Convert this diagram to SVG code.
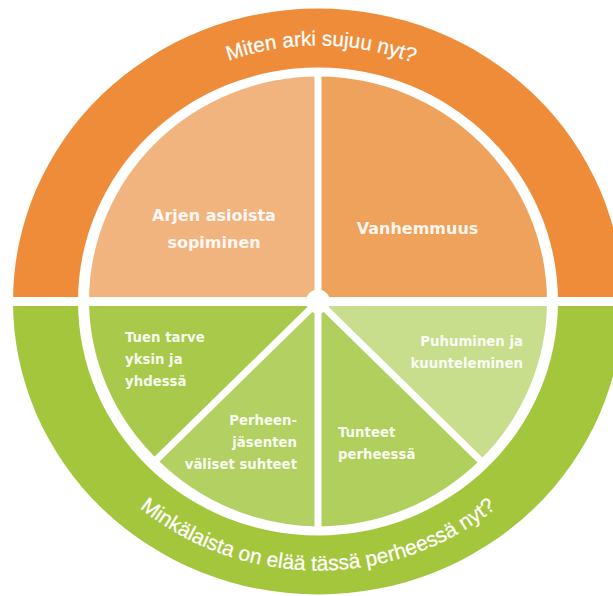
<svg xmlns="http://www.w3.org/2000/svg" width="613" height="596" viewBox="0 0 613 596">
  <defs>
    <style>
      .ring-text { font-family: "Liberation Sans", Arial, sans-serif; fill: #ffffff; stroke: #ffffff; stroke-width: 0.25; }
      .label { font-family: "DejaVu Sans", "Liberation Sans", sans-serif; font-weight: bold; fill: #ffffff; fill-opacity: 0.93; }
      .label-lg { font-size: 16px; }
      .label-sm { font-size: 13.3px; }
      .divider { stroke: #ffffff; stroke-width: 7; fill: none; }
    </style>
    <!-- baseline for the upper ring caption (clockwise over the top) -->
    <path id="arc-top" d="M 55 301.5 A 263 256 0 0 1 581 301.5"/>
    <!-- baseline for the lower ring caption (left to right under the bottom) -->
    <path id="arc-bottom" d="M 40 301.5 A 278 269 0 0 0 596 301.5"/>
  </defs>

  <rect width="613" height="596" fill="#ffffff"/>

  <!-- outer ring: everyday life (top) and family atmosphere (bottom) -->
  <g id="ring-top">
    <path d="M 13 301.5 A 305 293 0 0 1 623 301.5 Z" fill="#EE8C3A"/>
    <text class="ring-text" font-size="20.6"><textPath href="#arc-top" startOffset="50.4%" text-anchor="middle">Miten arki sujuu nyt?</textPath></text>
  </g>
  <g id="ring-bottom">
    <path d="M 13 301.5 A 305 293 0 0 0 623 301.5 Z" fill="#A4C63C"/>
  </g>

  <!-- white gap between the ring and the inner wheel -->
  <ellipse cx="318" cy="301.5" rx="240" ry="234" fill="#ffffff"/>

  <g id="ring-bottom-caption">
    <text class="ring-text" font-size="21"><textPath href="#arc-bottom" startOffset="50%" text-anchor="middle">Minkälaista on elää tässä perheessä nyt?</textPath></text>
  </g>

  <!-- inner wheel sectors -->
  <g id="arjen-asioista-sopiminen">
    <path d="M 318 301.5 L 89 301.5 A 229 225 0 0 1 318 76.5 Z" fill="#F2B47F"/>
    <text class="label label-lg" x="214" y="220.5" text-anchor="middle">Arjen asioista</text>
    <text class="label label-lg" x="214" y="247.5" text-anchor="middle">sopiminen</text>
  </g>
  <g id="vanhemmuus">
    <path d="M 318 301.5 L 318 76.5 A 229 225 0 0 1 547 301.5 Z" fill="#EFA25B"/>
    <text class="label label-lg" x="417.5" y="234" text-anchor="middle">Vanhemmuus</text>
  </g>
  <g id="tuen-tarve">
    <path d="M 318 301.5 L 89 301.5 A 229 225 0 0 0 157 459 Z" fill="#A8C94A"/>
    <text class="label label-sm" x="125" y="341.5">Tuen tarve</text>
    <text class="label label-sm" x="125" y="364">yksin ja</text>
    <text class="label label-sm" x="125" y="386">yhdessä</text>
  </g>
  <g id="perheenjasenten-suhteet">
    <path d="M 318 301.5 L 157 459 A 229 225 0 0 0 318 526.5 Z" fill="#B3D062"/>
    <text class="label label-sm" x="297" y="425" text-anchor="end">Perheen-</text>
    <text class="label label-sm" x="297" y="447" text-anchor="end">jäsenten</text>
    <text class="label label-sm" x="297" y="468.5" text-anchor="end">väliset suhteet</text>
  </g>
  <g id="tunteet-perheessa">
    <path d="M 318 301.5 L 318 526.5 A 229 225 0 0 0 480 460 Z" fill="#B1CF5C"/>
    <text class="label label-sm" x="338" y="436.5">Tunteet</text>
    <text class="label label-sm" x="338" y="458.5">perheessä</text>
  </g>
  <g id="puhuminen-kuunteleminen">
    <path d="M 318 301.5 L 480 460 A 229 225 0 0 0 547 301.5 Z" fill="#C8DE8D"/>
    <text class="label label-sm" x="523" y="346" text-anchor="end">Puhuminen ja</text>
    <text class="label label-sm" x="523" y="368" text-anchor="end">kuunteleminen</text>
  </g>

  <!-- white separators and hub -->
  <g id="dividers">
    <rect x="0" y="297" width="613" height="9" fill="#ffffff"/>
    <line class="divider" x1="318" y1="70" x2="318" y2="532"/>
    <line class="divider" x1="318" y1="301.5" x2="152" y2="464"/>
    <line class="divider" x1="318" y1="301.5" x2="485" y2="465"/>
    <circle cx="318" cy="301.5" r="12" fill="#ffffff"/>
  </g>
</svg>
